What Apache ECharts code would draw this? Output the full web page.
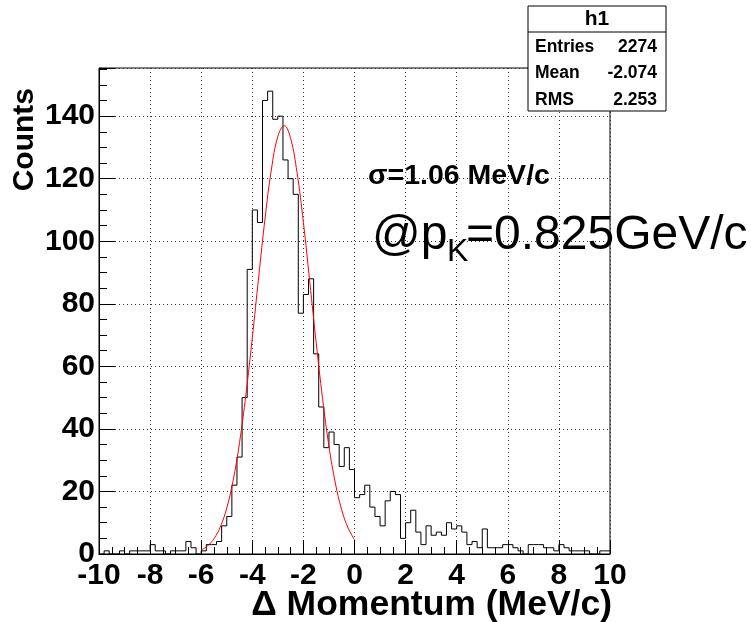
<!DOCTYPE html>
<html>
<head>
<meta charset="utf-8">
<script src="https://cdn.jsdelivr.net/npm/echarts@6/dist/echarts.min.js"></script>
<style>
html,body{margin:0;padding:0;background:#fff;}
#chart{width:751px;height:622px;}
</style>
</head>
<body>
<div id="chart"></div>
<script>
// ---- Data ----
const binLow = -10;       // lower edge of first bin
const binWidth = 0.2;     // bin width (MeV/c)
// counts per bin, bins from -10.0 to 10.0 in 0.2 steps
const counts = [
  0,1,0,0,1,0,1,1,1,1, 3,1,1,0,1,1,1,4,2,0,
  1,3,3,4,9,12,22,31,50,91, 110,106,145,148,139,140,126,120,115,77,
  83,88,64,47,34,39,35,28,34,27,
  18,19,22,15,12,9,17,20,19,5,
  10,14,7,3,9,6,7,6,10,8,
  9,7,3,4,2,8,2,2,2,3,
  3,2,1,0,3,3,3,2,2,1,
  3,2,1,1,1,1,0,0,1,1
];
// gaussian fit curve
const fitX = [-6,-5.75,-5.5,-5.25,-5,-4.75,-4.5,-4.25,-4,-3.75,-3.5,-3.25,-3,-2.75,-2.5,-2.25,-2,-1.75,-1.5,-1.25,-1,-0.75,-0.5,-0.25,0];
const fitY = [1.3,2.6,4.9,8.7,14.7,23.5,35.6,51.0,69.1,88.6,107.4,123.1,133.5,137.0,132.9,122.0,106.0,87.0,67.6,49.7,34.5,22.7,14.1,8.3,4.6];
const xTicks = {min:-10, max:10, interval:2};
const yTicks = {min:0, max:155.4, interval:20};
const statsTitle = 'h1';
const statsNames = ['Entries','Mean','RMS'];
const statsValues = ['2274','-2.074','2.253'];
const xTitle = 'Δ Momentum (MeV/c)';
const yTitle = 'Counts';
const sigmaText = 'σ=1.06 MeV/c';

// ---- Build ----
const histData = counts.map((c,i)=>[binLow + i*binWidth, c]);
histData.push([binLow + counts.length*binWidth, counts[counts.length-1]]);
const fitData = fitX.map((x,i)=>[x, fitY[i]]);

const FF = '"Liberation Sans", Arial, Helvetica, sans-serif';
const chart = echarts.init(document.getElementById('chart'), null, {renderer:'canvas'});

const gridL = 99, gridT = 68, gridR = 610, gridB = 554;

const statsGraphics = [];
const bx = 528, by = 6, bw = 138, bh = 105;
statsGraphics.push({type:'rect', shape:{x:bx,y:by,width:bw,height:bh}, style:{fill:'#fff',stroke:'#000',lineWidth:1}, z:100});
statsGraphics.push({type:'line', shape:{x1:bx,y1:32,x2:bx+bw,y2:32}, style:{stroke:'#000',lineWidth:1}, z:101});
statsGraphics.push({type:'text', x:bx+bw/2, y:19, z:102, style:{text:statsTitle, font:'bold 21px '+FF, fill:'#000', textAlign:'center', textVerticalAlign:'middle'}});
statsNames.forEach((n,i)=>{
  const yy = 47 + i*26.5;
  statsGraphics.push({type:'text', x:bx+7, y:yy, z:102, style:{text:n, font:'bold 17.5px '+FF, fill:'#000', textAlign:'left', textVerticalAlign:'middle'}});
  statsGraphics.push({type:'text', x:bx+bw-9, y:yy, z:102, style:{text:statsValues[i], font:'bold 17.5px '+FF, fill:'#000', textAlign:'right', textVerticalAlign:'middle'}});
});

const option = {
  backgroundColor:'#fff',
  animation:false,
  grid:{left:gridL, top:gridT, right:751-gridR, bottom:622-gridB, show:true, borderColor:'#000', borderWidth:1, backgroundColor:'transparent'},
  xAxis:{
    type:'value', min:xTicks.min, max:xTicks.max, interval:xTicks.interval,
    axisLine:{show:true, onZero:false, lineStyle:{color:'#000', width:1}},
    axisTick:{show:true, inside:true, length:14, lineStyle:{color:'#000'}},
    minorTick:{show:true, splitNumber:4, length:7, lineStyle:{color:'#000'}},
    splitLine:{show:true, lineStyle:{color:'#333', type:[1,3], width:1}},
    axisLabel:{show:true, margin:7, color:'#000', fontFamily:FF, fontWeight:'bold', fontSize:30}
  },
  yAxis:{
    type:'value', min:yTicks.min, max:yTicks.max, interval:yTicks.interval,
    axisLine:{show:true, onZero:false, lineStyle:{color:'#000', width:1}},
    axisTick:{show:true, inside:true, length:16, lineStyle:{color:'#000'}},
    minorTick:{show:true, splitNumber:4, length:8, lineStyle:{color:'#000'}},
    splitLine:{show:true, lineStyle:{color:'#333', type:[1,3], width:1}},
    axisLabel:{show:true, margin:4, color:'#000', fontFamily:FF, fontWeight:'bold', fontSize:30, showMaxLabel:false}
  },
  series:[
    {type:'line', data:histData, step:'end', symbol:'none', lineStyle:{color:'#000', width:1}, z:3},
    {type:'line', data:fitData, smooth:0.4, symbol:'none', lineStyle:{color:'#ff0000', width:1}, z:4}
  ],
  graphic:[
    ...statsGraphics,
    {type:'text', x:25, y:88, rotation:Math.PI/2, z:50, style:{text:yTitle, font:'bold 30px '+FF, fill:'#000', textAlign:'right', textVerticalAlign:'middle'}},
    {type:'text', x:612, y:605, z:50, style:{text:xTitle, font:'bold 35.5px '+FF, fill:'#000', textAlign:'right', textVerticalAlign:'middle'}},
    {type:'text', x:368, y:176, z:50, style:{text:sigmaText, font:'bold 28.5px '+FF, fill:'#000', textAlign:'left', textVerticalAlign:'middle'}},
    {type:'text', x:372, y:212, z:50, style:{text:'@p', font:'48px '+FF, fill:'#000', textAlign:'left', textVerticalAlign:'top'}},
    {type:'text', x:447, y:236, z:50, style:{text:'K', font:'32px '+FF, fill:'#000', textAlign:'left', textVerticalAlign:'top'}},
    {type:'text', x:466, y:212, z:50, style:{text:'=0.825GeV/c', font:'48px '+FF, fill:'#000', textAlign:'left', textVerticalAlign:'top'}}
  ]
};
chart.setOption(option);
</script>
</body>
</html>
